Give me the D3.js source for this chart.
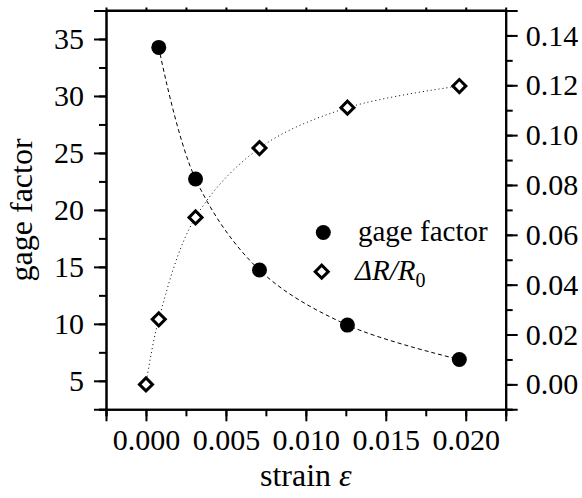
<!DOCTYPE html>
<html>
<head>
<meta charset="utf-8">
<script src="https://cdn.jsdelivr.net/npm/d3@7"></script>
<style>
  body { margin: 0; background: #fff; }
  .axis path, .axis line { stroke: #000; stroke-width: 2; }
</style>
</head>
<body>
<div class="chart"></div>
<script>
// strain values (x) for each series
var strainGF = [0.0008, 0.0031, 0.0071, 0.0126, 0.0196];
var gageFactor = [34.26, 22.71, 14.72, 9.89, 6.87];

var strainDR = [0.0, 0.0008, 0.0031, 0.0071, 0.0126, 0.0196];
var deltaR = [0.0, 0.0261, 0.0670, 0.0948, 0.1110, 0.1197];

var xTicks = [0, 0.005, 0.01, 0.015, 0.02];
var yLeftTicks = [5, 10, 15, 20, 25, 30, 35];
var yRightTicks = [0, 0.02, 0.04, 0.06, 0.08, 0.1, 0.12, 0.14];

var FONT = 'Liberation Serif';

function init() {
  var width = 582,
      height = 498,
      left = 106,
      right = 505.7,
      top = 10.5,
      bottom = 409.3;

  var svg = d3.select('.chart')
    .append('svg')
      .attr('width', width)
      .attr('height', height);

  var x = d3.scaleLinear().domain([-0.0025, 0.0225]).range([left, right]);
  var yL = d3.scaleLinear().domain([2.5, 37.5]).range([bottom, top]);
  var yR = d3.scaleLinear().domain([-0.01, 0.15]).range([bottom, top]);

  // minor ticks
  var xMinor = d3.range(-0.0025, 0.0226, 0.0025);
  var yLMinor = d3.range(2.5, 37.6, 2.5);
  var yRMinor = d3.range(-0.01, 0.151, 0.01);

  svg.append('g').attr('class', 'axis')
      .attr('transform', 'translate(0,' + bottom + ')')
      .call(d3.axisBottom(x).tickValues(xMinor).tickSize(7).tickFormat(''));
  svg.append('g').attr('class', 'axis')
      .attr('transform', 'translate(0,' + top + ')')
      .call(d3.axisBottom(x).tickValues(xMinor).tickSizeInner(-3).tickSizeOuter(0).tickFormat(''));
  svg.append('g').attr('class', 'axis')
      .attr('transform', 'translate(' + left + ',0)')
      .call(d3.axisLeft(yL).tickValues(yLMinor).tickSize(7).tickFormat(''));
  svg.append('g').attr('class', 'axis')
      .attr('transform', 'translate(' + right + ',0)')
      .call(d3.axisRight(yR).tickValues(yRMinor).tickSize(7).tickFormat(''));

  // major ticks with labels
  var xAxis = svg.append('g').attr('class', 'axis')
      .attr('transform', 'translate(0,' + bottom + ')')
      .call(d3.axisBottom(x).tickValues(xTicks).tickSize(12).tickPadding(8)
        .tickFormat(d3.format('.3f')));
  var yAxisL = svg.append('g').attr('class', 'axis')
      .attr('transform', 'translate(' + left + ',0)')
      .call(d3.axisLeft(yL).tickValues(yLeftTicks).tickSize(12).tickPadding(10));
  var yAxisR = svg.append('g').attr('class', 'axis')
      .attr('transform', 'translate(' + right + ',0)')
      .call(d3.axisRight(yR).tickValues(yRightTicks).tickSize(12).tickPadding(8)
        .tickFormat(d3.format('.2f')));

  [xAxis, yAxisL, yAxisR].forEach(function(a) {
    a.selectAll('text')
        .style('font-family', FONT)
        .style('font-size', '30px');
  });
  xAxis.selectAll('text').attr('y', 19);

  svg.selectAll('.axis .domain').attr('fill', 'none');

  // top frame line
  svg.append('line')
      .attr('x1', left).attr('x2', right)
      .attr('y1', top).attr('y2', top)
      .attr('stroke', '#000').attr('stroke-width', 2);

  // curves
  var gfLine = d3.line()
      .x(function(d, i) { return x(strainGF[i]); })
      .y(function(d) { return yL(d); })
      .curve(d3.curveCatmullRom);
  var drLine = d3.line()
      .x(function(d, i) { return x(strainDR[i]); })
      .y(function(d) { return yR(d); })
      .curve(d3.curveCatmullRom);

  svg.append('path')
      .attr('d', gfLine(gageFactor))
      .attr('fill', 'none')
      .attr('stroke', '#000')
      .attr('stroke-width', 1)
      .attr('stroke-dasharray', '4,3');
  svg.append('path')
      .attr('d', drLine(deltaR))
      .attr('fill', 'none')
      .attr('stroke', '#000')
      .attr('stroke-width', 1)
      .attr('stroke-dasharray', '1,3');

  var diamond = d3.symbol().type(d3.symbolSquare).size(85);

  svg.selectAll('circle.gf')
      .data(gageFactor)
    .enter().append('circle')
      .attr('class', 'gf')
      .attr('cx', function(d, i) { return x(strainGF[i]); })
      .attr('cy', function(d) { return yL(d); })
      .attr('r', 7.5)
      .attr('fill', '#000');

  svg.selectAll('path.dr')
      .data(deltaR)
    .enter().append('path')
      .attr('class', 'dr')
      .attr('d', diamond)
      .attr('transform', function(d, i) {
        return 'translate(' + x(strainDR[i]) + ',' + yR(d) + ') rotate(45)';
      })
      .attr('fill', '#fff')
      .attr('stroke', '#000')
      .attr('stroke-width', 3);

  // legend
  var legend = svg.append('g');
  legend.append('circle')
      .attr('cx', 323.3).attr('cy', 232.5).attr('r', 7.5).attr('fill', '#000');
  legend.append('text')
      .attr('x', 358).attr('y', 241)
      .style('font-family', FONT)
      .style('font-size', '29px')
      .text('gage factor');
  legend.append('path')
      .attr('d', diamond)
      .attr('transform', 'translate(321.7,271.7) rotate(45)')
      .attr('fill', '#fff').attr('stroke', '#000').attr('stroke-width', 3);
  var lt = legend.append('text')
      .attr('x', 355).attr('y', 280)
      .style('font-family', FONT)
      .style('font-size', '29px');
  lt.append('tspan').style('font-style', 'italic').text('\u0394R/R');
  lt.append('tspan').attr('dy', 7).style('font-size', '20px').text('0');

  // axis titles
  var xt = svg.append('text')
      .attr('x', (left + right) / 2).attr('y', 486)
      .attr('text-anchor', 'middle')
      .style('font-family', FONT)
      .style('font-size', '32px');
  xt.append('tspan').text('strain ');
  xt.append('tspan').style('font-style', 'italic').text('\u03b5');

  svg.append('text')
      .attr('transform', 'translate(32,' + ((top + bottom) / 2) + ') rotate(-90)')
      .attr('text-anchor', 'middle')
      .style('font-family', FONT)
      .style('font-size', '32px')
      .text('gage factor');
}

d3.select(window).on('load', init);
</script>
</body>
</html>
